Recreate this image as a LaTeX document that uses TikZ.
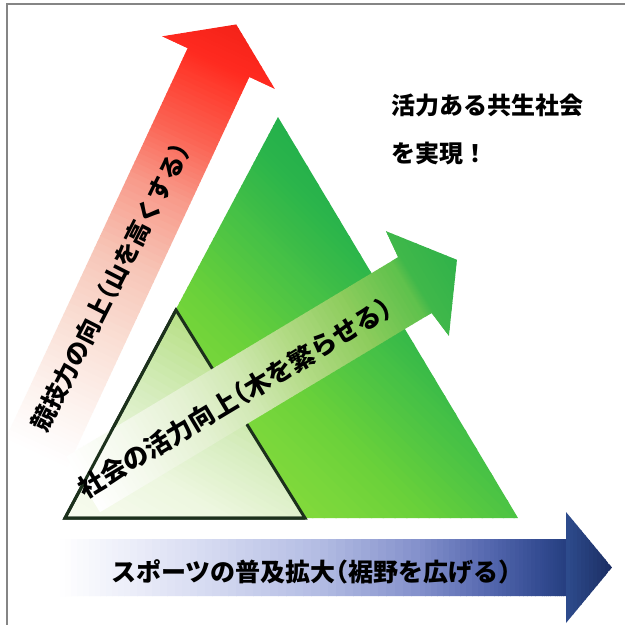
\documentclass[tikz,border=0pt]{standalone}
\usepackage{fontspec}
\newfontfamily\jpfont{Noto Sans CJK JP}
\definecolor{bordergray}{HTML}{858585}
\definecolor{tridark}{HTML}{1C301C}
% red arrow
\definecolor{r1}{HTML}{FDF2EE}
\definecolor{r2}{HTML}{FAE0D6}
\definecolor{r3}{HTML}{F7C6B8}
\definecolor{r4}{HTML}{F89A8A}
\definecolor{r5}{HTML}{FB6454}
\definecolor{r6}{HTML}{FF3A2C}
\definecolor{r7}{HTML}{FF2A20}
\definecolor{r8}{HTML}{F42218}
% green arrow
\definecolor{a1}{HTML}{F4F9EC}
\definecolor{a2}{HTML}{E4F1D2}
\definecolor{a3}{HTML}{D0E8B2}
\definecolor{a4}{HTML}{B2DA84}
\definecolor{a5}{HTML}{8CCC5C}
\definecolor{a6}{HTML}{5EC14C}
\definecolor{a7}{HTML}{40B84A}
\definecolor{a8}{HTML}{30B24A}
% big triangle
\definecolor{b0}{HTML}{98E040}
\definecolor{b1}{HTML}{88DC3C}
\definecolor{b2}{HTML}{6CD23A}
\definecolor{b3}{HTML}{44C046}
\definecolor{b4}{HTML}{2AB44B}
\definecolor{b5}{HTML}{1FAE4C}
% small triangle
\definecolor{s0}{HTML}{FAFDF4}
\definecolor{s1}{HTML}{EEF7E0}
\definecolor{s2}{HTML}{D6EDBE}
\definecolor{s3}{HTML}{B4DE80}
% blue arrow
\definecolor{u1}{HTML}{ECEEF9}
\definecolor{u2}{HTML}{D2D7F0}
\definecolor{u3}{HTML}{B3BCE3}
\definecolor{u4}{HTML}{8390CB}
\definecolor{u5}{HTML}{5467AE}
\definecolor{u6}{HTML}{344C92}
\definecolor{u7}{HTML}{263F80}
\definecolor{h0}{HTML}{2E4C8E}
\definecolor{h1}{HTML}{1B2D62}
% strips: #1 from, #2 to, #3 colour at #1, #4 colour at #2, #5 #6 strip extent
\newcommand\mygrad[6]{%
  \foreach \k in {0,...,11}{%
    \pgfmathsetmacro\xa{#1+(#2-#1)*\k/12}%
    \pgfmathsetmacro\xb{#1+(#2-#1)*(\k+1)/12}%
    \pgfmathsetmacro\pp{100*(\k+0.5)/12}%
    \fill[#4!\pp!#3] (\xa-0.4,#5) rectangle (\xb+0.4,#6);%
  }}
% half-width brackets
\newcommand\jlp{\kern-0.5em（}
\newcommand\jrp{）\kern-0.5em}
\tikzset{
  trioutline/.style={draw=tridark, line width=3pt, line join=miter},
  jptext/.style={text=black, inner sep=0pt}
}
\begin{document}
\begin{tikzpicture}[x=1pt,y=-1pt]
\useasboundingbox (0,0) rectangle (625,625);
\fill[white] (0,0) rectangle (625,625);

% red arrow
\begin{scope}[shift={(218.5,62.5)}, rotate=65]
  \clip (-430,-34) -- (0,-34) -- (0,-62) -- (42,0) -- (0,62) -- (0,34) -- (-430,34) -- cycle;
  \mygrad{-430}{-370}{white}{r1}{-70}{70}
  \mygrad{-370}{-300}{r1}{r2}{-70}{70}
  \mygrad{-300}{-220}{r2}{r3}{-70}{70}
  \mygrad{-220}{-140}{r3}{r4}{-70}{70}
  \mygrad{-140}{-80}{r4}{r5}{-70}{70}
  \mygrad{-80}{-20}{r5}{r6}{-70}{70}
  \mygrad{-20}{0}{r6}{r7}{-70}{70}
  \mygrad{0}{43}{r7}{r8}{-70}{70}
\end{scope}

% big triangle
\begin{scope}
  \clip (65,518) -- (278,117) -- (518,518) -- cycle;
  \begin{scope}[shift={(65,518)}, rotate=45]
    \mygrad{-20}{150}{b0}{b1}{-500}{500}
    \mygrad{150}{250}{b1}{b2}{-500}{500}
    \mygrad{250}{340}{b2}{b3}{-500}{500}
    \mygrad{340}{400}{b3}{b4}{-500}{500}
    \mygrad{400}{460}{b4}{b5}{-500}{500}
  \end{scope}
\end{scope}

% small triangle
\begin{scope}
  \clip (65,518) -- (176,310) -- (305,518) -- cycle;
  \begin{scope}[shift={(65,518)}, rotate=60]
    \mygrad{-20}{80}{s0}{s1}{-400}{400}
    \mygrad{80}{150}{s1}{s2}{-400}{400}
    \mygrad{150}{245}{s2}{s3}{-400}{400}
  \end{scope}
\end{scope}
\draw[trioutline] (65,518) -- (176,310) -- (305,518) -- cycle;

% green arrow
\begin{scope}[shift={(417.5,283.5)}, rotate=31]
  \clip (-390,-32.5) -- (-3,-32.5) -- (0,-61) -- (46,0) -- (0,61) -- (-3,32.5) -- (-390,32.5) -- cycle;
  \mygrad{-390}{-330}{white}{a1}{-70}{70}
  \mygrad{-330}{-260}{a1}{a2}{-70}{70}
  \mygrad{-260}{-200}{a2}{a3}{-70}{70}
  \mygrad{-200}{-140}{a3}{a4}{-70}{70}
  \mygrad{-140}{-70}{a4}{a5}{-70}{70}
  \mygrad{-70}{-10}{a5}{a6}{-70}{70}
  \mygrad{-10}{0}{a6}{a7}{-70}{70}
  \mygrad{0}{47}{a7}{a8}{-70}{70}
\end{scope}
\draw[trioutline] (305,518) -- (65,518) -- (176,310);

% blue arrow
\begin{scope}
  \clip (60,539) -- (566,539) -- (566,512) -- (612,567.5) -- (566,623) -- (566,596) -- (60,596) -- cycle;
  \mygrad{60}{130}{white}{u1}{500}{630}
  \mygrad{130}{220}{u1}{u2}{500}{630}
  \mygrad{220}{320}{u2}{u3}{500}{630}
  \mygrad{320}{420}{u3}{u4}{500}{630}
  \mygrad{420}{490}{u4}{u5}{500}{630}
  \mygrad{490}{540}{u5}{u6}{500}{630}
  \mygrad{540}{566}{u6}{u7}{500}{630}
  \mygrad{566}{613}{h0}{h1}{500}{630}
\end{scope}

% frame
\draw[line width=2pt, bordergray] (6.5,625) -- (6.5,3.5) -- (625,3.5);

% texts
\node[jptext, font={\jpfont\bfseries\fontsize{24.5pt}{25pt}\selectfont}, rotate=63.1]
  (redtext) at (110.3,287.5) {競技力の向上\jlp 山を高くする\jrp};
\node[jptext, font={\jpfont\bfseries\fontsize{25.8pt}{26pt}\selectfont}, rotate=30.9]
  (greentext) at (235,398) {社会の活力向上\jlp 木を繁らせる\jrp};
\node[jptext, font={\jpfont\bfseries\fontsize{25pt}{26pt}\selectfont}]
  (bluetext) at (311,572) {スポーツの普及拡大\jlp 裾野を広げる\jrp};
\node[jptext, anchor=west, font={\jpfont\bfseries\fontsize{24pt}{25pt}\selectfont}]
  (goal1) at (391,105) {活力ある共生社会};
\node[jptext, anchor=west, font={\jpfont\bfseries\fontsize{24pt}{25pt}\selectfont}]
  (goal2) at (391,153) {を実現！};
\end{tikzpicture}
\end{document}
